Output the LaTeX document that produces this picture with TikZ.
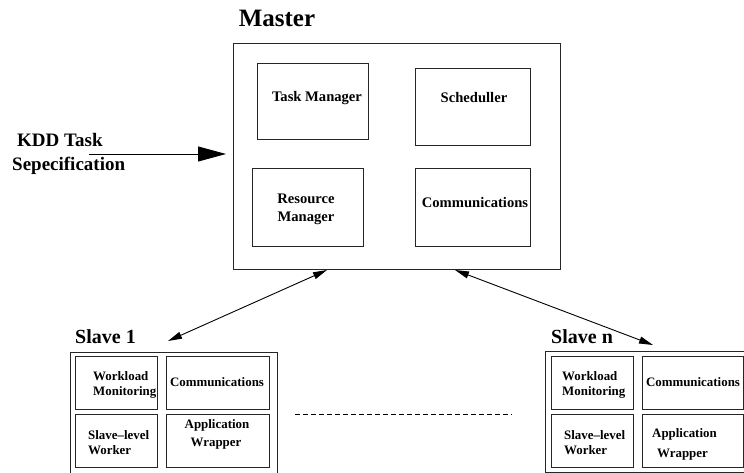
\documentclass[tikz,border=0pt]{standalone}
\usepackage{fontspec}
\setmainfont{Liberation Serif}
\usetikzlibrary{arrows.meta}
\begin{document}
\begin{tikzpicture}[x=1pt,y=-1pt,
  box/.style={draw=black!85,line width=0.8pt,rectangle,inner sep=0pt,anchor=north west},
  txt/.style={inner sep=0pt,font=\bfseries},
  big/.style={txt,font=\fontsize{25}{29}\selectfont\bfseries},
  mid/.style={txt,font=\fontsize{19}{23}\selectfont\bfseries},
  slv/.style={txt,font=\fontsize{20}{24}\selectfont\bfseries},
  inn/.style={txt,font=\fontsize{14.6}{17}\selectfont\bfseries},
  sm/.style={txt,font=\fontsize{12.9}{15}\selectfont\bfseries},
  conn/.style={line width=0.9pt,black}
]
\useasboundingbox (0,0) rectangle (744,473);
% Master
\node[big] (mastert) at (277,18) {Master};
\node[box,minimum width=327pt,minimum height=226pt] (master) at (233,43) {};
\node[box,minimum width=111pt,minimum height=76pt] (tm) at (257,63) {};
\node[box,minimum width=115pt,minimum height=77pt] (sch) at (415,68) {};
\node[box,minimum width=111pt,minimum height=78pt] (rm) at (252,168) {};
\node[box,minimum width=115pt,minimum height=78pt] (com) at (415,168) {};
\node[inn] (tmt) at (317,98) {Task Manager};
\node[inn] (scht) at (474,98) {Scheduller};
\node[inn] (rmt1) at (306,199) {Resource};
\node[inn] (rmt2) at (306,218) {Manager};
\node[inn] (comt) at (475,203) {Communications};
% KDD
\node[mid,anchor=west] (kdd1) at (17,140) {KDD Task};
\node[mid,anchor=west] (kdd2) at (12,166) {Sepecification};
\coordinate (kstart) at (89,154);
\coordinate (kend) at (226,154);
\draw[conn,-{Triangle[length=28pt,width=15pt]}] (kstart) -- (kend);
% Slave 1
\node[slv,anchor=west] (s1t) at (75,337) {Slave 1};
\node[box,minimum width=207pt,minimum height=121pt] (s1) at (70,352) {};
\node[box,minimum width=82pt,minimum height=53pt] (s1wm) at (75,356) {};
\node[box,minimum width=103pt,minimum height=53pt] (s1c) at (166,356) {};
\node[box,minimum width=82pt,minimum height=53pt] (s1sw) at (75,414) {};
\node[box,minimum width=103pt,minimum height=53pt] (s1aw) at (166,414) {};
\node[sm,anchor=west] (s1wm1) at (93,376) {Workload};
\node[sm,anchor=west] (s1wm2) at (93,392) {Monitoring};
\node[sm] (s1ct) at (217,382) {Communications};
\node[sm,anchor=west] (s1sw1) at (88,435) {Slave--level};
\node[sm,anchor=west] (s1sw2) at (88,450) {Worker};
\node[sm] (s1aw1) at (217,425) {Application};
\node[sm] (s1aw2) at (216,444) {Wrapper};
% Slave n
\node[slv,anchor=west] (snt) at (551,337) {Slave n};
\node[box,minimum width=199pt,minimum height=121pt] (sn) at (545,351) {};
\node[box,minimum width=82pt,minimum height=53pt] (snwm) at (551,356) {};
\node[box,minimum width=101pt,minimum height=53pt] (snc) at (642,356) {};
\node[box,minimum width=82pt,minimum height=53pt] (snsw) at (551,414) {};
\node[box,minimum width=101pt,minimum height=53pt] (snaw) at (642,414) {};
\node[sm,anchor=west] (snwm1) at (562,376) {Workload};
\node[sm,anchor=west] (snwm2) at (562,392) {Monitoring};
\node[sm] (snct) at (693,382) {Communications};
\node[sm,anchor=west] (snsw1) at (564,435) {Slave--level};
\node[sm,anchor=west] (snsw2) at (564,450) {Worker};
\node[sm,anchor=west] (snaw1) at (652,434) {Application};
\node[sm,anchor=west] (snaw2) at (657,455) {Wrapper};
% connectors
\coordinate (m1) at (327,270);
\coordinate (s1tip) at (168,341);
\coordinate (m2) at (455,270);
\coordinate (sntip) at (653,345);
\draw[conn,{Triangle[length=14pt,width=7pt]}-{Triangle[length=14pt,width=7pt]}] (m1) -- (s1tip);
\draw[conn,{Triangle[length=14pt,width=7pt]}-{Triangle[length=14pt,width=7pt]}] (m2) -- (sntip);
\coordinate (d1) at (295,414);
\coordinate (d2) at (512,414);
\draw[conn,dash pattern=on 5pt off 3pt] (d1) -- (d2);
\end{tikzpicture}
\end{document}
